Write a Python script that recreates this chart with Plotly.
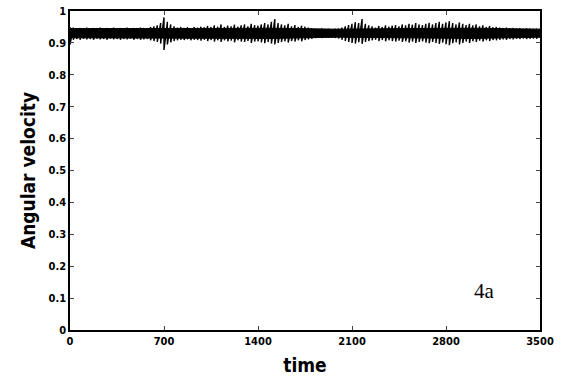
import plotly.graph_objects as go

time = list(range(0, 3501, 25))
upper = [
    0.950, 0.948, 0.946, 0.947, 0.945, 0.948, 0.946, 0.947, 0.945, 0.948,
    0.946, 0.947, 0.945, 0.948, 0.946, 0.947, 0.946, 0.948, 0.945, 0.947,
    0.946, 0.948, 0.947, 0.946, 0.950, 0.952, 0.955, 0.962, 0.980, 0.966,
    0.958, 0.952, 0.948, 0.950, 0.947, 0.949, 0.946, 0.950, 0.948, 0.951,
    0.949, 0.953, 0.950, 0.955, 0.951, 0.958, 0.950, 0.954, 0.952, 0.957,
    0.951, 0.955, 0.958, 0.952, 0.960, 0.956, 0.954, 0.958, 0.962, 0.958,
    0.966, 0.975, 0.962, 0.958, 0.955, 0.960, 0.952, 0.956, 0.950, 0.954,
    0.951, 0.948, 0.946, 0.944, 0.943, 0.945, 0.943, 0.944, 0.942, 0.944,
    0.945, 0.948, 0.952, 0.956, 0.960, 0.965, 0.962, 0.975, 0.960, 0.955,
    0.952, 0.948, 0.953, 0.950, 0.955, 0.951, 0.954, 0.956, 0.952, 0.958,
    0.955, 0.960, 0.957, 0.962, 0.958, 0.956, 0.960, 0.963, 0.958, 0.962,
    0.966, 0.960, 0.964, 0.968, 0.962, 0.958, 0.964, 0.960, 0.956, 0.960,
    0.955, 0.958, 0.952, 0.955, 0.950, 0.953, 0.949, 0.950, 0.948, 0.947,
    0.948, 0.946, 0.947, 0.945, 0.946, 0.944, 0.946, 0.945, 0.944, 0.945,
    0.944,
]
lower = [
    0.895, 0.910, 0.912, 0.910, 0.913, 0.911, 0.912, 0.910, 0.913, 0.911,
    0.912, 0.910, 0.913, 0.911, 0.912, 0.910, 0.912, 0.911, 0.913, 0.910,
    0.912, 0.910, 0.911, 0.912, 0.908, 0.906, 0.903, 0.898, 0.878, 0.895,
    0.902, 0.906, 0.908, 0.910, 0.909, 0.911, 0.908, 0.910, 0.909, 0.907,
    0.910, 0.906, 0.909, 0.904, 0.908, 0.903, 0.908, 0.905, 0.907, 0.902,
    0.908, 0.904, 0.903, 0.906, 0.900, 0.904, 0.905, 0.902, 0.899, 0.903,
    0.898, 0.895, 0.900, 0.903, 0.905, 0.901, 0.906, 0.904, 0.908, 0.905,
    0.909, 0.911, 0.913, 0.915, 0.916, 0.915, 0.917, 0.916, 0.917, 0.915,
    0.914, 0.910, 0.906, 0.903, 0.900, 0.898, 0.902, 0.897, 0.903, 0.906,
    0.908, 0.910, 0.906, 0.909, 0.905, 0.908, 0.906, 0.904, 0.907, 0.903,
    0.905, 0.901, 0.904, 0.900, 0.903, 0.905, 0.901, 0.899, 0.903, 0.900,
    0.897, 0.901, 0.896, 0.893, 0.899, 0.902, 0.895, 0.900, 0.904, 0.900,
    0.905, 0.903, 0.907, 0.904, 0.908, 0.906, 0.909, 0.908, 0.910, 0.911,
    0.910, 0.912, 0.911, 0.913, 0.912, 0.914, 0.912, 0.913, 0.914, 0.913,
    0.915,
]

# solid core of the band
core_time = [0, 500, 1000, 1500, 2000, 2500, 3000, 3500]
core_hi = [0.945, 0.944, 0.945, 0.946, 0.943, 0.945, 0.946, 0.943]
core_lo = [0.916, 0.917, 0.915, 0.914, 0.918, 0.915, 0.914, 0.918]

x_ticks = [0, 700, 1400, 2100, 2800, 3500]
y_ticks = [0, 0.1, 0.2, 0.3, 0.4, 0.5, 0.6, 0.7, 0.8, 0.9, 1]
y_tick_text = ["0", "0.1", "0.2", "0.3", "0.4", "0.5", "0.6", "0.7", "0.8", "0.9", "1"]

# zigzag between the envelope values
zx, zy = [], []
for t, u, l in zip(time, upper, lower):
    zx += [t, t]
    zy += [u, l]

fig = go.Figure()
fig.add_trace(go.Scatter(
    x=core_time + core_time[::-1], y=core_hi + core_lo[::-1],
    fill="toself", fillcolor="black", line=dict(color="black", width=1),
    mode="lines", hoverinfo="skip", showlegend=False))
fig.add_trace(go.Scatter(x=zx, y=zy, mode="lines",
                         line=dict(color="black", width=1.4), showlegend=False))

fig.add_annotation(x=3085, y=0.122, text="4a", showarrow=False,
                   font=dict(family="Liberation Serif, Times New Roman, serif", size=21, color="black"))

cond = "DejaVu Sans Condensed, Liberation Sans Narrow, Arial Narrow, Arial"
tick_font = dict(family=cond, size=11, color="black", weight="bold")
title_font = dict(family=cond, size=19, color="black", weight="bold")

fig.update_layout(
    width=561, height=378,
    margin=dict(l=70, r=21, t=11, b=48, autoexpand=False),
    paper_bgcolor="white", plot_bgcolor="white",
    xaxis=dict(range=[0, 3500], tickvals=x_ticks, ticks="inside", ticklen=4,
               showline=True, linecolor="black", linewidth=1.5, mirror="ticks",
               showgrid=False, zeroline=False, tickfont=tick_font, automargin=False,
               title=dict(text="time", font=title_font, standoff=12)),
    yaxis=dict(range=[0, 1], tickvals=y_ticks, ticktext=y_tick_text, ticks="inside", ticklen=4,
               showline=True, linecolor="black", linewidth=1.5, mirror="ticks",
               showgrid=False, zeroline=False, tickfont=tick_font, automargin=False,
               title=dict(text="Angular velocity", font=title_font, standoff=8)),
)

# remove the default 8px page margin so the figure fills the window exactly
fig.write_html("out.html", config={"displayModeBar": False},
               post_script="document.body.style.margin='0';document.body.style.overflow='hidden';")
